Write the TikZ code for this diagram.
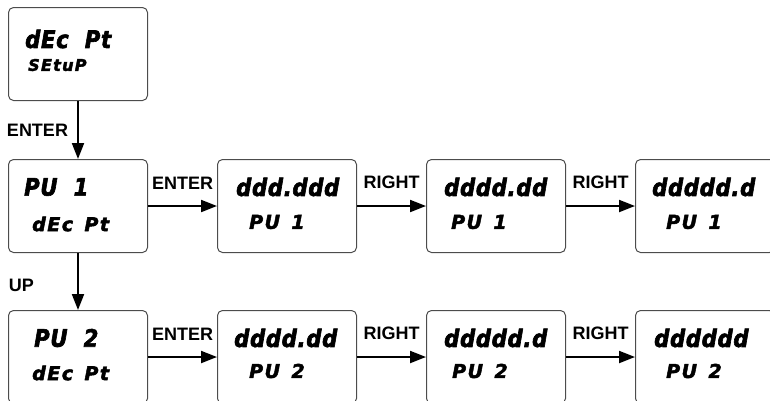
\documentclass[tikz,border=0pt]{standalone}
\usepackage{fontspec}
\setmainfont{Liberation Sans}
\newfontfamily\segfont[LetterSpace=3, WordSpace=2, FakeStretch=0.88, FakeBold=2.5]{DejaVu Sans}
\newfontfamily\segsmallfont[LetterSpace=8, WordSpace=1.4, FakeBold=2.5]{DejaVu Sans}
\usetikzlibrary{arrows.meta}

\tikzset{
  panel/.style={draw=black!70, line width=1pt, rounded corners=5pt,
                minimum width=139pt, minimum height=93pt, inner sep=0pt},
  bigseg/.style={anchor=west, inner sep=0pt,
                 font=\segfont\bfseries\itshape\fontsize{24}{24}\selectfont},
  smallseg/.style={anchor=west, inner sep=0pt,
                   font=\segsmallfont\bfseries\itshape\fontsize{19}{19}\selectfont},
  key/.style={font=\bfseries\fontsize{18}{18}\selectfont, inner sep=0pt}
}

\begin{document}
\begin{tikzpicture}[x=1pt, y=1pt, >={Triangle[length=16pt,width=12pt]},
                    node distance=209pt]
  \useasboundingbox (0,0) rectangle (770,-400);
  \clip (0,0) rectangle (770,-400);

  % panels
  \node[panel] (setup) at (78,-54) {};
  \node[panel] (pu1) [node distance=152pt, below of=setup] {};
  \node[panel] (pu1a) [right of=pu1] {};
  \node[panel] (pu1b) [right of=pu1a] {};
  \node[panel] (pu1c) [right of=pu1b] {};
  \node[panel] (pu2) [node distance=151pt, below of=pu1] {};
  \node[panel] (pu2a) [right of=pu2] {};
  \node[panel] (pu2b) [right of=pu2a] {};
  \node[panel] (pu2c) [right of=pu2b] {};

  % display texts
  \node[bigseg] (setup-hi) at ([shift={(17,-32)}]setup.north west) {dEc Pt};
  \node[smallseg, font=\segsmallfont\bfseries\itshape\fontsize{16}{16}\selectfont]
       (setup-lo) at ([shift={(20,-58)}]setup.north west) {SEtuP};

  \node[bigseg] (pu1-hi) at ([shift={(16,-28)}]pu1.north west) {PU 1};
  \node[smallseg] (pu1-lo) at ([shift={(24,-65)}]pu1.north west) {dEc Pt};
  \node[bigseg] (pu1a-hi) at ([shift={(19,-28)}]pu1a.north west) {ddd.ddd};
  \node[smallseg] (pu1a-lo) at ([shift={(32,-63)}]pu1a.north west) {PU 1};
  \node[bigseg] (pu1b-hi) at ([shift={(18,-28)}]pu1b.north west) {dddd.dd};
  \node[smallseg] (pu1b-lo) at ([shift={(25,-63)}]pu1b.north west) {PU 1};
  \node[bigseg] (pu1c-hi) at ([shift={(17,-28)}]pu1c.north west) {ddddd.d};
  \node[smallseg] (pu1c-lo) at ([shift={(31,-63)}]pu1c.north west) {PU 1};

  \node[bigseg] (pu2-hi) at ([shift={(26,-28)}]pu2.north west) {PU 2};
  \node[smallseg] (pu2-lo) at ([shift={(24,-63)}]pu2.north west) {dEc Pt};
  \node[bigseg] (pu2a-hi) at ([shift={(17,-28)}]pu2a.north west) {dddd.dd};
  \node[smallseg] (pu2a-lo) at ([shift={(32,-61)}]pu2a.north west) {PU 2};
  \node[bigseg] (pu2b-hi) at ([shift={(18,-28)}]pu2b.north west) {ddddd.d};
  \node[smallseg] (pu2b-lo) at ([shift={(26,-61)}]pu2b.north west) {PU 2};
  \node[bigseg] (pu2c-hi) at ([shift={(19,-28)}]pu2c.north west) {dddddd};
  \node[smallseg] (pu2c-lo) at ([shift={(31,-61)}]pu2c.north west) {PU 2};

  % keys
  \path[->, line width=2pt]
        (setup) edge node[key, left=9pt] (k-enter0) {ENTER} (pu1)
        (pu1)  edge node[key, left=43pt, yshift=-4pt] (k-up) {UP} (pu2)
               edge node[key, above=16pt] (k-enter1) {ENTER} (pu1a)
        (pu1a) edge node[key, above=16pt] (k-right1) {RIGHT} (pu1b)
        (pu1b) edge node[key, above=16pt] (k-right2) {RIGHT} (pu1c)
        (pu2)  edge node[key, above=16pt] (k-enter2) {ENTER} (pu2a)
        (pu2a) edge node[key, above=16pt] (k-right3) {RIGHT} (pu2b)
        (pu2b) edge node[key, above=16pt] (k-right4) {RIGHT} (pu2c);
\end{tikzpicture}
\end{document}
